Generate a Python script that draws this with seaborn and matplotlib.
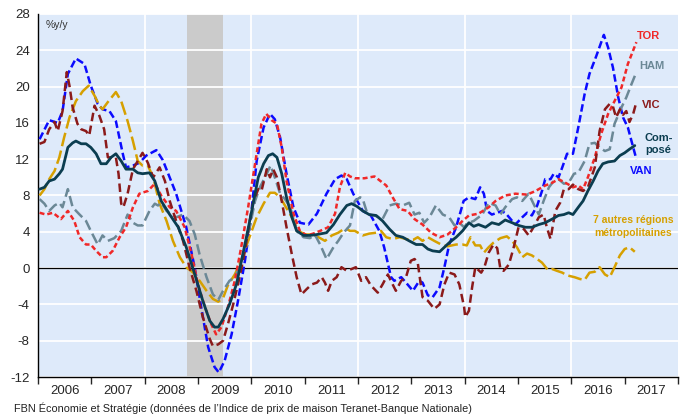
"""
Indice de prix de maison Teranet-Banque Nationale : variation annuelle par région
"""
import numpy as np
import pandas as pd
import matplotlib
matplotlib.use('Agg')
import matplotlib.pyplot as plt
import seaborn as sns
from matplotlib.ticker import FixedLocator

sns.set_style('white')
plt.rcParams['font.family'] = ['Liberation Sans', 'DejaVu Sans']

# --- données (année décimale, %a/a) ---
van_t = [2006.03, 2006.21, 2006.37, 2006.46, 2006.56, 2006.71, 2006.87, 2006.99, 2007.12, 2007.21,
         2007.34, 2007.46, 2007.59, 2007.65, 2007.78, 2007.90, 2008.03, 2008.22, 2008.34, 2008.59,
         2008.78, 2008.94, 2009.06, 2009.19, 2009.31, 2009.39, 2009.50, 2009.63, 2009.75, 2009.88,
         2009.97, 2010.10, 2010.23, 2010.35, 2010.44, 2010.54, 2010.66, 2010.79, 2010.91, 2011.07,
         2011.23, 2011.41, 2011.57, 2011.69, 2011.79, 2011.91, 2012.09, 2012.24, 2012.40, 2012.49,
         2012.62, 2012.68, 2012.81, 2012.90, 2013.03, 2013.15, 2013.21, 2013.31, 2013.40, 2013.53,
         2013.62, 2013.71, 2013.84, 2013.98, 2014.08, 2014.20, 2014.29, 2014.36, 2014.42, 2014.51,
         2014.61, 2014.70, 2014.79, 2014.89, 2014.95, 2015.08, 2015.17, 2015.26, 2015.36, 2015.45,
         2015.51, 2015.61, 2015.67, 2015.76, 2015.83, 2015.92, 2016.03, 2016.13, 2016.25, 2016.34,
         2016.47, 2016.61, 2016.69, 2016.78, 2016.88, 2016.97, 2017.06, 2017.16, 2017.22]
van_v = [14.2, 16.3, 16.0, 17.3, 21.4, 23.1, 22.5, 20.1, 18.1, 17.5,
         17.3, 16.2, 12.6, 11.1, 11.3, 11.6, 12.4, 13.0, 11.9, 8.2,
         4.5, 0.0, -4.3, -8.7, -10.9, -11.5, -10.2, -7.3, -3.6, 0.8,
         4.5, 11.8, 15.5, 17.0, 16.4, 14.4, 10.4, 6.7, 5.0, 4.8,
         6.0, 8.2, 9.8, 10.2, 9.8, 8.2, 6.3, 5.8, 4.1, 2.3,
         -1.0, -1.4, -1.0, -1.6, -2.5, -1.4, -1.6, -3.0, -3.2, -2.1,
         0.1, 2.6, 4.5, 7.4, 7.8, 7.6, 8.9, 8.2, 6.3, 5.9,
         6.1, 6.3, 5.9, 5.2, 4.8, 5.6, 6.1, 5.8, 6.9, 8.5,
         9.8, 9.8, 10.4, 10.0, 11.1, 12.6, 12.6, 15.5, 19.2, 21.4,
         23.4, 25.7, 24.3, 22.1, 18.8, 16.6, 15.5, 13.3, 12.0]

tor_t = [2006.03, 2006.15, 2006.28, 2006.43, 2006.56, 2006.68, 2006.78, 2006.90, 2006.99, 2007.09,
         2007.21, 2007.28, 2007.40, 2007.53, 2007.65, 2007.78, 2007.90, 2008.06, 2008.19, 2008.31,
         2008.47, 2008.59, 2008.75, 2008.88, 2009.00, 2009.13, 2009.25, 2009.34, 2009.44, 2009.56,
         2009.69, 2009.81, 2009.94, 2010.10, 2010.19, 2010.28, 2010.38, 2010.48, 2010.57, 2010.66,
         2010.79, 2010.91, 2011.04, 2011.16, 2011.29, 2011.44, 2011.57, 2011.66, 2011.76, 2011.85,
         2011.94, 2012.12, 2012.31, 2012.53, 2012.65, 2012.78, 2012.93, 2013.06, 2013.21, 2013.37,
         2013.53, 2013.68, 2013.84, 2013.96, 2014.08, 2014.26, 2014.45, 2014.58, 2014.76, 2014.95,
         2015.17, 2015.33, 2015.51, 2015.64, 2015.76, 2015.89, 2015.98, 2016.03, 2016.13, 2016.22,
         2016.31, 2016.44, 2016.56, 2016.69, 2016.81, 2016.94, 2017.06, 2017.22]
tor_v = [6.1, 5.9, 6.1, 5.4, 6.3, 5.2, 3.4, 2.6, 2.6, 1.9,
         1.2, 1.2, 1.9, 3.4, 4.5, 6.7, 8.2, 8.5, 9.3, 8.0,
         6.7, 6.3, 4.5, 1.5, -1.8, -4.3, -6.2, -7.3, -6.5, -4.3,
         -1.4, 2.3, 6.7, 12.6, 15.9, 17.0, 16.3, 15.9, 13.3, 9.6,
         6.0, 4.1, 3.6, 3.8, 4.1, 4.5, 6.0, 8.9, 10.5, 10.1,
         9.9, 9.9, 10.1, 9.1, 7.8, 6.5, 6.3, 5.4, 4.8, 3.9,
         3.4, 3.7, 4.5, 5.2, 5.8, 6.0, 6.7, 7.4, 8.0, 8.2,
         8.1, 8.5, 9.1, 9.4, 9.8, 9.4, 9.1, 8.9, 9.1, 8.7,
         10.0, 12.2, 14.8, 17.0, 18.4, 19.9, 22.5, 24.9]

ham_t = [2006.03, 2006.12, 2006.21, 2006.31, 2006.40, 2006.46, 2006.56, 2006.65, 2006.78, 2006.90,
         2006.99, 2007.12, 2007.21, 2007.31, 2007.43, 2007.56, 2007.68, 2007.78, 2007.87, 2007.96,
         2008.09, 2008.19, 2008.25, 2008.31, 2008.41, 2008.50, 2008.59, 2008.72, 2008.84, 2008.94,
         2009.03, 2009.16, 2009.28, 2009.38, 2009.47, 2009.59, 2009.69, 2009.78, 2009.88, 2009.97,
         2010.07, 2010.16, 2010.29, 2010.36, 2010.44, 2010.54, 2010.63, 2010.73, 2010.85, 2010.98,
         2011.10, 2011.19, 2011.29, 2011.41, 2011.54, 2011.63, 2011.73, 2011.85, 2011.94, 2012.04,
         2012.09, 2012.18, 2012.31, 2012.46, 2012.59, 2012.71, 2012.84, 2012.96, 2013.06, 2013.15,
         2013.24, 2013.34, 2013.46, 2013.59, 2013.71, 2013.81, 2013.90, 2013.99, 2014.04, 2014.17,
         2014.33, 2014.45, 2014.58, 2014.67, 2014.76, 2014.89, 2014.98, 2015.08, 2015.20, 2015.29,
         2015.39, 2015.48, 2015.58, 2015.67, 2015.76, 2015.86, 2015.95, 2016.05, 2016.13, 2016.25,
         2016.34, 2016.44, 2016.53, 2016.63, 2016.72, 2016.81, 2016.94, 2017.03, 2017.13, 2017.22]
ham_v = [7.6, 7.1, 6.3, 6.9, 7.2, 6.7, 8.7, 6.7, 5.9, 5.2,
         4.1, 2.6, 3.6, 3.0, 3.3, 4.1, 5.9, 5.0, 4.7, 4.7,
         6.3, 7.1, 6.9, 7.2, 6.3, 5.9, 5.6, 5.9, 5.2, 3.7,
         1.5, -1.0, -2.9, -3.5, -2.5, -1.4, -1.0, 0.1, 2.3, 4.5,
         7.4, 8.9, 10.4, 11.3, 10.0, 8.2, 7.6, 6.7, 4.1, 3.4,
         3.3, 3.7, 2.6, 1.0, 2.3, 3.0, 3.9, 4.7, 7.4, 7.8,
         7.6, 5.9, 5.8, 5.4, 6.9, 7.1, 6.9, 7.2, 5.9, 6.1,
         5.0, 5.6, 6.9, 5.9, 5.6, 4.7, 5.0, 4.5, 4.9, 5.2,
         5.9, 7.2, 6.9, 5.9, 6.7, 7.6, 7.8, 7.4, 8.2, 7.1,
         5.9, 7.4, 8.9, 9.6, 9.8, 9.3, 9.4, 10.4, 10.5, 11.8,
         13.7, 13.8, 13.3, 12.9, 13.1, 15.9, 17.7, 18.8, 20.3, 21.6]

vic_t = [2006.03, 2006.12, 2006.21, 2006.31, 2006.37, 2006.46, 2006.54, 2006.59, 2006.65, 2006.74,
         2006.81, 2006.90, 2006.96, 2007.06, 2007.15, 2007.24, 2007.31, 2007.40, 2007.46, 2007.51,
         2007.56, 2007.60, 2007.68, 2007.78, 2007.87, 2007.96, 2008.06, 2008.16, 2008.28, 2008.38,
         2008.47, 2008.59, 2008.72, 2008.84, 2008.97, 2009.09, 2009.22, 2009.28, 2009.38, 2009.47,
         2009.56, 2009.66, 2009.78, 2009.88, 2009.97, 2010.04, 2010.13, 2010.19, 2010.29, 2010.35,
         2010.41, 2010.48, 2010.57, 2010.66, 2010.76, 2010.85, 2010.94, 2011.04, 2011.13, 2011.23,
         2011.32, 2011.38, 2011.44, 2011.51, 2011.60, 2011.69, 2011.79, 2011.88, 2011.96, 2012.06,
         2012.15, 2012.24, 2012.37, 2012.46, 2012.56, 2012.65, 2012.71, 2012.81, 2012.90, 2012.99,
         2013.06, 2013.12, 2013.21, 2013.31, 2013.43, 2013.53, 2013.62, 2013.71, 2013.81, 2013.90,
         2013.99, 2014.01, 2014.08, 2014.14, 2014.20, 2014.31, 2014.37, 2014.45, 2014.54, 2014.61,
         2014.67, 2014.73, 2014.83, 2014.92, 2015.01, 2015.11, 2015.20, 2015.29, 2015.39, 2015.48,
         2015.54, 2015.61, 2015.70, 2015.79, 2015.86, 2015.95, 2016.03, 2016.13, 2016.22, 2016.31,
         2016.44, 2016.53, 2016.63, 2016.72, 2016.78, 2016.84, 2016.91, 2016.97, 2017.03, 2017.09,
         2017.16, 2017.22]
vic_v = [13.7, 13.9, 15.3, 16.1, 15.1, 17.3, 21.6, 20.1, 17.7, 15.9,
         15.3, 15.1, 14.6, 17.9, 16.8, 15.3, 12.2, 12.2, 12.2, 10.4,
         7.1, 6.7, 8.2, 10.9, 11.8, 12.7, 11.6, 10.0, 11.1, 9.6,
         7.4, 5.2, 3.0, 0.1, -2.5, -5.4, -7.8, -8.6, -8.4, -8.0,
         -6.2, -4.0, -1.0, 1.9, 5.2, 7.4, 8.7, 8.5, 10.9, 10.0,
         10.9, 10.0, 7.4, 4.5, 1.5, -1.0, -2.9, -2.3, -1.8, -1.6,
         -1.0, -1.6, -2.5, -1.4, -1.0, 0.1, -0.3, -0.1, 0.1, -1.4,
         -1.0, -1.9, -2.7, -1.8, -0.7, -1.8, -2.5, -1.4, -1.0, 0.8,
         1.0, 0.6, -3.2, -3.6, -4.5, -4.0, -1.8, -0.5, -0.7, -1.8,
         -4.3, -5.4, -4.7, -2.1, 0.1, -0.5, 0.1, 1.7, 2.6, 2.2,
         -0.1, -0.3, 0.4, 2.3, 4.5, 4.3, 3.6, 4.5, 5.6, 5.9,
         4.5, 3.2, 6.3, 7.2, 8.7, 8.7, 9.2, 8.7, 8.5, 8.9,
         11.1, 15.1, 17.5, 18.1, 17.8, 16.6, 17.5, 16.9, 17.3, 16.1,
         17.0, 18.3]

comp_t = [2006.03, 2006.12, 2006.21, 2006.31, 2006.40, 2006.46, 2006.56, 2006.65, 2006.71, 2006.81,
          2006.90, 2006.99, 2007.09, 2007.18, 2007.28, 2007.37, 2007.46, 2007.56, 2007.65, 2007.78,
          2007.87, 2007.96, 2008.09, 2008.19, 2008.31, 2008.47, 2008.63, 2008.78, 2008.94, 2009.09,
          2009.22, 2009.31, 2009.38, 2009.47, 2009.59, 2009.72, 2009.84, 2009.97, 2010.07, 2010.13,
          2010.23, 2010.32, 2010.40, 2010.48, 2010.57, 2010.66, 2010.76, 2010.85, 2010.98, 2011.10,
          2011.23, 2011.41, 2011.54, 2011.66, 2011.79, 2011.88, 2011.98, 2012.09, 2012.21, 2012.34,
          2012.46, 2012.59, 2012.71, 2012.84, 2012.96, 2013.09, 2013.21, 2013.31, 2013.40, 2013.53,
          2013.62, 2013.71, 2013.84, 2013.96, 2014.08, 2014.17, 2014.26, 2014.39, 2014.51, 2014.64,
          2014.76, 2014.89, 2015.01, 2015.14, 2015.26, 2015.39, 2015.51, 2015.64, 2015.76, 2015.86,
          2015.95, 2016.03, 2016.13, 2016.22, 2016.31, 2016.41, 2016.50, 2016.59, 2016.69, 2016.81,
          2016.91, 2017.00, 2017.09, 2017.19]
comp_v = [8.7, 8.9, 9.6, 9.8, 10.4, 10.9, 13.3, 13.8, 14.0, 13.7,
          13.7, 13.3, 12.6, 11.5, 11.5, 12.2, 12.6, 11.8, 10.9, 10.9,
          10.5, 10.4, 10.5, 9.6, 7.4, 5.9, 4.5, 2.3, -0.7, -3.6,
          -5.8, -6.5, -6.5, -5.6, -4.0, -1.8, 1.5, 5.2, 8.2, 10.0,
          11.5, 12.4, 12.6, 12.2, 10.4, 7.8, 5.6, 4.1, 3.6, 3.6,
          3.7, 3.9, 4.8, 5.9, 6.9, 7.1, 6.8, 6.3, 5.9, 5.8,
          5.2, 4.3, 3.6, 3.4, 3.0, 2.6, 2.6, 2.1, 1.9, 1.8,
          2.3, 2.8, 3.4, 4.1, 5.0, 4.6, 4.8, 4.5, 5.0, 4.8,
          5.3, 5.0, 4.7, 4.5, 4.5, 4.8, 5.0, 5.4, 5.8, 5.9,
          6.1, 5.9, 6.7, 7.4, 8.5, 9.6, 10.7, 11.5, 11.7, 11.8,
          12.4, 12.7, 13.1, 13.5]

aut_t = [2006.03, 2006.12, 2006.21, 2006.31, 2006.40, 2006.49, 2006.59, 2006.71, 2006.84, 2006.95,
         2007.06, 2007.15, 2007.21, 2007.31, 2007.46, 2007.56, 2007.68, 2007.78, 2007.87, 2007.96,
         2008.06, 2008.16, 2008.28, 2008.41, 2008.53, 2008.66, 2008.78, 2008.91, 2009.03, 2009.16,
         2009.28, 2009.38, 2009.47, 2009.56, 2009.69, 2009.81, 2009.94, 2010.10, 2010.23, 2010.35,
         2010.44, 2010.54, 2010.63, 2010.76, 2010.88, 2011.01, 2011.13, 2011.26, 2011.38, 2011.51,
         2011.63, 2011.76, 2011.85, 2011.94, 2012.09, 2012.21, 2012.34, 2012.43, 2012.53, 2012.65,
         2012.78, 2012.90, 2013.03, 2013.12, 2013.21, 2013.31, 2013.43, 2013.56, 2013.68, 2013.84,
         2013.96, 2014.04, 2014.11, 2014.20, 2014.29, 2014.36, 2014.45, 2014.54, 2014.67, 2014.79,
         2014.89, 2014.98, 2015.08, 2015.17, 2015.26, 2015.36, 2015.45, 2015.56, 2015.64, 2015.73,
         2015.83, 2015.92, 2016.06, 2016.16, 2016.25, 2016.34, 2016.44, 2016.53, 2016.63, 2016.72,
         2016.81, 2016.91, 2017.00, 2017.09, 2017.19]
aut_v = [8.0, 8.7, 9.8, 10.7, 12.2, 14.4, 16.6, 18.4, 19.5, 20.1,
         19.0, 17.9, 17.5, 18.3, 19.4, 18.4, 16.2, 14.0, 11.8, 11.3,
         11.3, 10.0, 7.1, 5.2, 3.0, 1.2, 0.1, -0.5, -1.4, -2.5,
         -3.4, -3.7, -3.3, -1.9, -0.7, 0.8, 3.0, 5.6, 7.1, 8.3,
         8.3, 7.8, 6.9, 5.6, 4.1, 3.7, 3.7, 3.4, 3.0, 3.6,
         3.9, 4.4, 4.1, 4.1, 3.6, 3.8, 3.9, 4.1, 3.4, 3.2,
         3.4, 3.2, 3.1, 3.4, 3.0, 3.4, 3.0, 2.6, 2.4, 2.6,
         2.6, 2.5, 3.4, 2.5, 2.5, 1.7, 2.3, 2.8, 3.3, 3.5,
         3.0, 2.3, 1.2, 1.6, 1.4, 1.0, 0.6, -0.2, -0.1, -0.3,
         -0.5, -0.8, -1.0, -1.2, -1.3, -0.5, -0.4, 0.1, -0.7, -1.0,
         0.1, 1.4, 2.1, 2.3, 1.8]

series = [
    # (t, v, couleur, largeur, motif)
    (van_t, van_v, '#0b0bff', 1.8, (0, (3.0, 1.4))),
    (aut_t, aut_v, '#d6a000', 1.8, (0, (5.5, 1.8))),
    (ham_t, ham_v, '#6b8896', 1.8, (0, (4.2, 1.8))),
    (tor_t, tor_v, '#f02828', 1.8, (0, (2.0, 1.2))),
    (vic_t, vic_v, '#8b1a1a', 1.8, (0, (3.4, 1.8))),
    (comp_t, comp_v, '#0b3d50', 2.0, '-'),
]

years = list(range(2006, 2019))
year_labels = [str(y) for y in range(2006, 2018)]
y_ticks = list(range(-12, 29, 4))

fig = plt.figure(figsize=(6.84, 4.15), dpi=100)
ax = fig.add_axes([38 / 684, 1 - 377 / 415, 640 / 684, 363 / 415])
ax.set_facecolor('#deeafa')

# récession
ax.axvspan(2008.79, 2009.47, color='#cbcbcb', lw=0, zorder=0.2)

for t, v, col, lw, ls in series:
    df = pd.DataFrame({'t': t, 'v': v})
    sns.lineplot(data=df, x='t', y='v', ax=ax, color=col, linewidth=lw,
                 linestyle=ls, estimator=None, zorder=3)

ax.axhline(0, color='black', lw=0.9, zorder=2)

ax.set_xlim(2006, 2018)
ax.set_ylim(-12, 28)
ax.set_yticks(y_ticks)
ax.set_yticklabels([str(y) for y in y_ticks], fontsize=9.5)

# étiquettes au milieu des années, traits aux changements d'année
ax.set_xticks([y + 0.5 for y in range(2006, 2018)])
ax.set_xticklabels(year_labels, fontsize=9.5)
ax.xaxis.set_minor_locator(FixedLocator([y + m / 12 for y in range(2006, 2018) for m in range(12)]))
ax.tick_params(axis='x', which='major', length=0, pad=6)
ax.tick_params(axis='x', which='minor', length=2.5, width=0.8, color='black')
ax.tick_params(axis='y', which='major', length=4, width=0.8, color='black', pad=2)
sec = ax.secondary_xaxis('bottom')
sec.set_xticks(years)
sec.set_xticklabels([])
sec.tick_params(length=5, width=1)
sec.spines['bottom'].set_visible(False)

# grille
for y in y_ticks:
    ax.axhline(y, color='white', lw=1.3, zorder=0.5)
for x in range(2008, 2018, 2):
    ax.axvline(x, color='white', lw=1.3, zorder=0.5)

ax.set_xlabel('')
ax.set_ylabel('')
for s in ['top', 'right']:
    ax.spines[s].set_visible(False)
ax.spines['left'].set_color('black')
ax.spines['bottom'].set_color('black')
ax.spines['left'].set_linewidth(1.0)
ax.spines['bottom'].set_linewidth(1.0)

# annotations
ax.text(2006.15, 26.8, '%y/y', fontsize=7.5, color='#333333', va='center')
lab = dict(fontsize=8, fontweight='bold', ha='left', va='center')
ax.text(2017.22, 25.6, 'TOR', color='#f02828', **lab)
ax.text(2017.27, 22.3, 'HAM', color='#6b8896', **lab)
ax.text(2017.33, 18.0, 'VIC', color='#8b1a1a', **lab)
ax.text(2017.38, 13.7, 'Com-\nposé', color='#0b3d50', linespacing=1.3, **lab)
ax.text(2017.10, 10.7, 'VAN', color='#0b0bff', **lab)
ax.text(2017.16, 4.6, '7 autres régions\nmétropolitaines', color='#d6a000',
        fontsize=7.5, fontweight='bold', ha='center', va='center', linespacing=1.4)

fig.text(14 / 684, 1 - 408 / 415,
         'FBN Économie et Stratégie (données de l\u2019Indice de prix de maison Teranet-Banque Nationale)',
         fontsize=7.8, color='#222222', va='center')

fig.savefig('out.png', dpi=100)
